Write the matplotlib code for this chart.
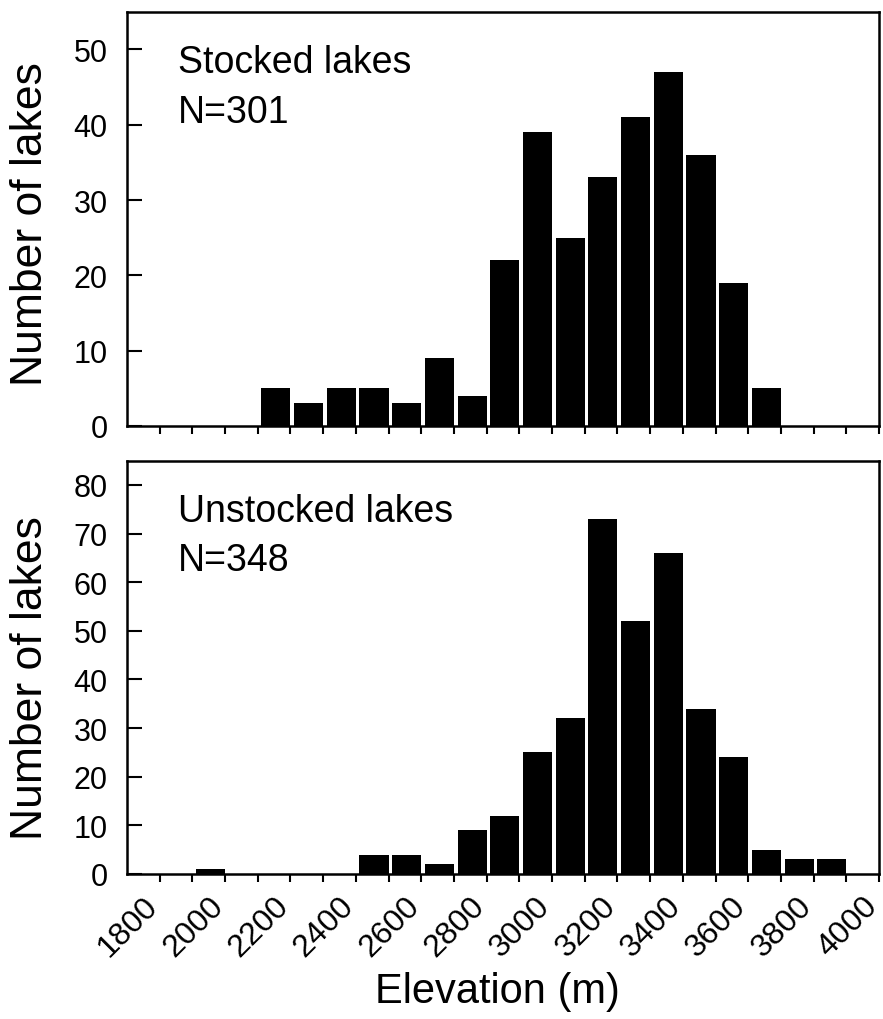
import matplotlib
matplotlib.use("Agg")
import matplotlib.pyplot as plt
import matplotlib.transforms as mtransforms

plt.rcParams["font.family"] = ["Liberation Sans", "DejaVu Sans"]

# 100 m elevation bins (left edge of each bin)
bin_starts = list(range(1700, 4000, 100))

stocked_counts = [0, 0, 0, 0, 5, 3, 5, 5, 3, 9, 4, 22, 39, 25, 33, 41, 47, 36, 19, 5, 0, 0, 0]
unstocked_counts = [0, 0, 1, 0, 0, 0, 0, 4, 4, 2, 9, 12, 25, 32, 73, 52, 66, 34, 24, 5, 3, 3, 0]

panel_titles = ["Stocked lakes", "Unstocked lakes"]
panel_n = ["N=301", "N=348"]
y_limits = [55, 85]
y_ticks = [list(range(0, 51, 10)), list(range(0, 81, 10))]

x_ticks = list(range(1800, 4001, 100))
x_ticklabels = [str(v) if v % 200 == 0 else "" for v in x_ticks]

BAR_W = 89   # bar width in m; bars sit against the right edge of their bin
GAP = 100 - BAR_W

fig = plt.figure(figsize=(8.83, 10.2), dpi=100)
ax_top = fig.add_axes([0.1438, 0.5814, 0.8517, 0.4061])
ax_bot = fig.add_axes([0.1438, 0.1422, 0.8517, 0.4052])

ylabel_y = [0.49, 0.477]

for i, (ax, counts) in enumerate(zip([ax_top, ax_bot], [stocked_counts, unstocked_counts])):
    lefts = [b + GAP for b in bin_starts]
    ax.bar(lefts, counts, width=BAR_W, align="edge", color="black", linewidth=0)
    ax.set_xlim(1700, 4000)
    ax.set_ylim(0, y_limits[i])
    ax.set_yticks(y_ticks[i])
    ax.set_xticks(x_ticks)
    for sp in ax.spines.values():
        sp.set_linewidth(1.8)
    ax.tick_params(axis="y", direction="in", length=11, width=1.5, pad=14, labelsize=22)
    ax.tick_params(axis="x", direction="out", length=6, width=1.5, pad=6, labelsize=23)
    ax.set_ylabel("Number of lakes", fontsize=32, va="center")
    ax.yaxis.set_label_coords(-0.128, ylabel_y[i])
    ax.text(0.068, 0.855, panel_titles[i], transform=ax.transAxes, fontsize=27, va="baseline")
    ax.text(0.068, 0.735, panel_n[i], transform=ax.transAxes, fontsize=27, va="baseline")

ax_top.set_xticklabels([])
ax_bot.set_xticklabels(x_ticklabels, rotation=45, ha="right", va="top")
# nudge rotated labels a touch to the right, as in the original
shift = mtransforms.ScaledTranslation(3 / 72, 0, fig.dpi_scale_trans)
for lbl in ax_bot.get_xticklabels():
    lbl.set_transform(lbl.get_transform() + shift)
ax_bot.set_xlabel("Elevation (m)", fontsize=30)
ax_bot.xaxis.set_label_coords(0.492, -0.235)

fig.savefig("out.png", dpi=100, facecolor="white")
